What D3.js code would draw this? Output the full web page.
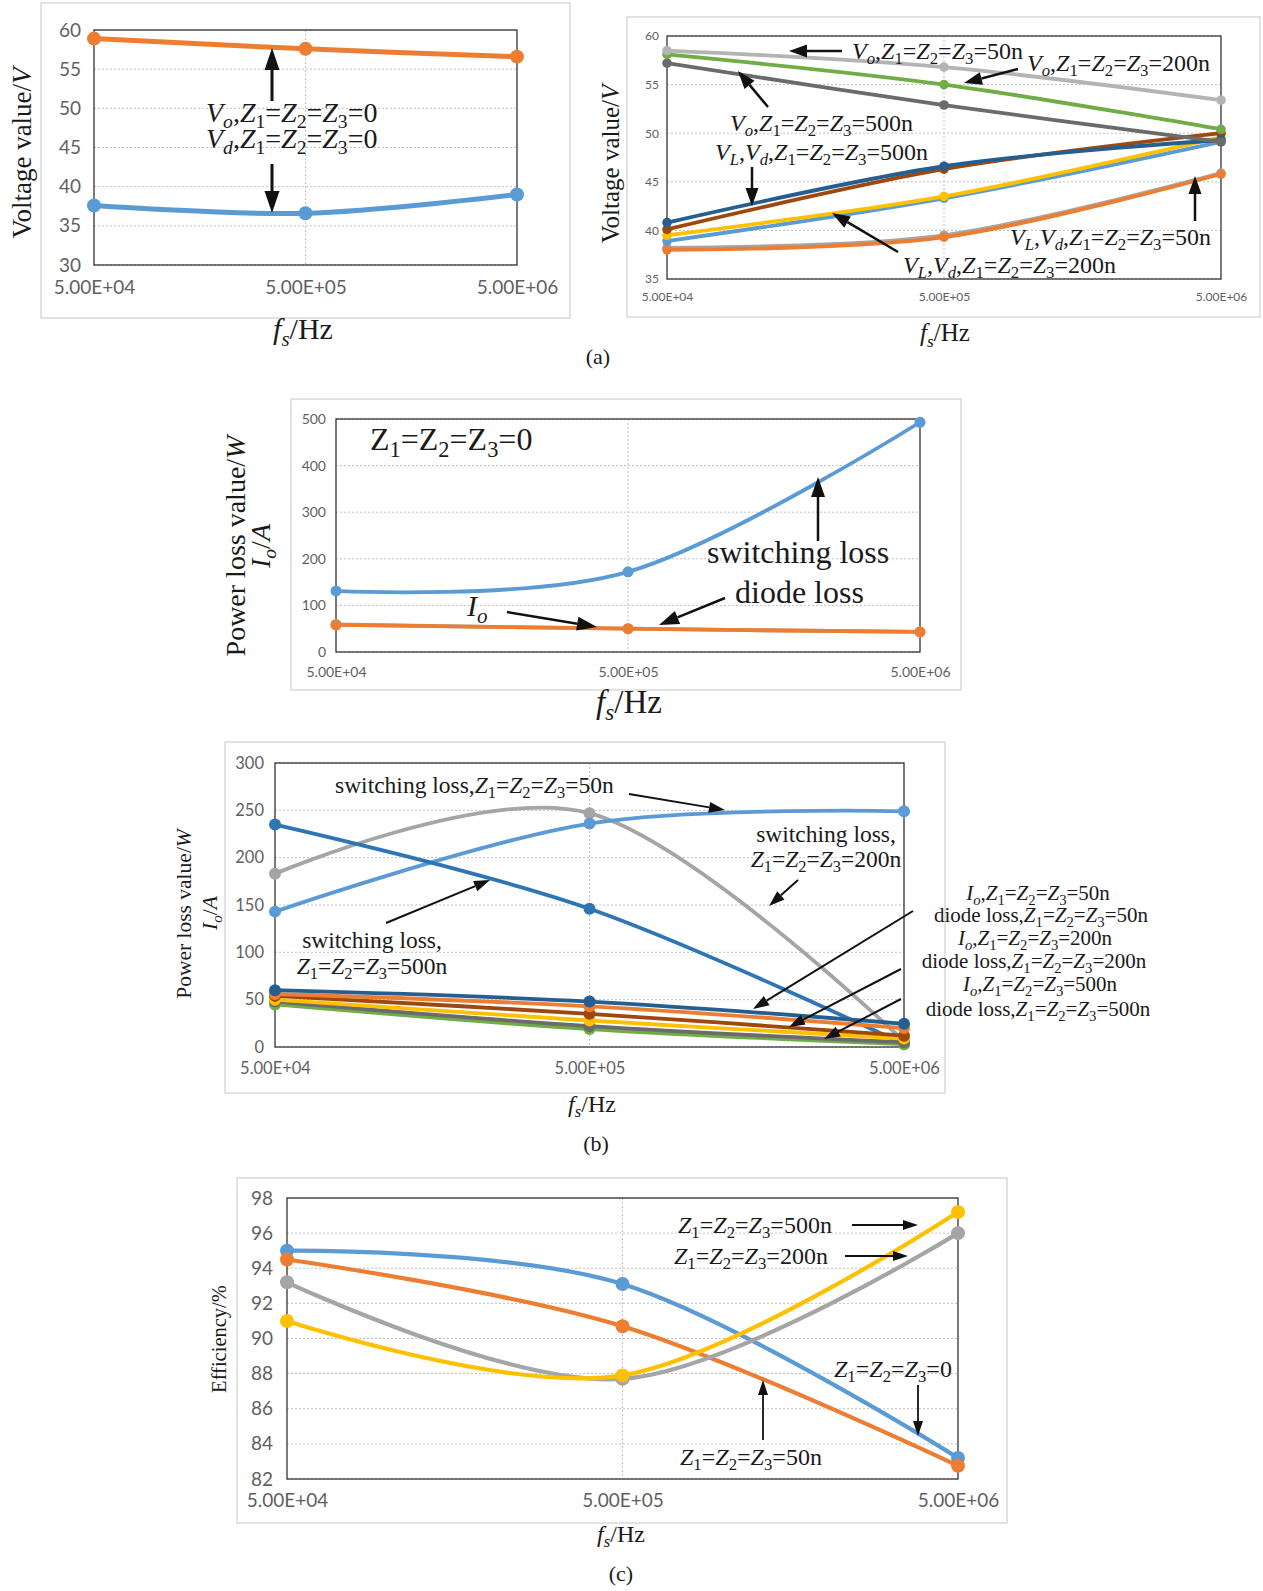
<!DOCTYPE html>
<html>
<head>
<meta charset="utf-8">
<script src="https://cdn.jsdelivr.net/npm/d3@7"></script>
<style>
body{margin:0;background:#fff}
svg{display:block}
</style>
</head>
<body>
<script>
// switching frequency (Hz), shared by all panels
var freqs = [5e4, 5e5, 5e6];
var xTickLabels = ["5.00E+04", "5.00E+05", "5.00E+06"];

// (a) left, Z1=Z2=Z3=0
var a1Ticks = [30, 35, 40, 45, 50, 55, 60];
var a1Vo = [58.9, 57.6, 56.6];
var a1Vd = [37.6, 36.6, 39.0];

// (a) right
var a2Ticks = [35, 40, 45, 50, 55, 60];
var a2Vo50 = [58.5, 56.8, 53.4];
var a2Vo200 = [58.1, 55.0, 50.4];
var a2Vo500 = [57.2, 52.9, 49.1];
var a2VL500 = [40.8, 46.6, 49.3];
var a2Vd500 = [40.1, 46.3, 50.0];
var a2VL200 = [39.5, 43.5, 49.6];
var a2Vd200 = [38.9, 43.3, 49.1];
var a2VL50 = [38.2, 39.5, 45.9];
var a2Vd50 = [38.0, 39.3, 45.8];

// (b) top, Z1=Z2=Z3=0
var b1Ticks = [0, 100, 200, 300, 400, 500];
var b1Switch = [131, 172, 493];
var b1Io = [59, 50, 43];
var b1Diode = [58, 50, 43];

// (b) bottom
var b2Ticks = [0, 50, 100, 150, 200, 250, 300];
var b2Sw50 = [143, 236, 249];
var b2Sw200 = [183, 247, 6];
var b2Sw500 = [235, 146, 3];
var b2Io50 = [60, 48, 24.5];
var b2Dl50 = [56, 43, 20];
var b2Io200 = [54, 35, 12];
var b2Dl200 = [50, 28, 9];
var b2Io500 = [48, 22, 5];
var b2Dl500 = [45, 19, 3];

// (c) efficiency
var cTicks = [82, 84, 86, 88, 90, 92, 94, 96, 98];
var cZ0 = [95.0, 93.1, 83.2];
var cZ50 = [94.5, 90.7, 82.75];
var cZ200 = [93.2, 87.7, 96.0];
var cZ500 = [91.0, 87.9, 97.2];

var svg = d3.select("body").append("svg").attr("width", 1263).attr("height", 1591);
var serif = "'Liberation Serif','Times New Roman',serif";
var sans = "Lato,'Open Sans',sans-serif";

function panel(p) {
  var g = svg.append("g");
  g.append("rect").attr("x", p.frame[0]).attr("y", p.frame[1])
    .attr("width", p.frame[2]).attr("height", p.frame[3])
    .attr("fill", "#fff").attr("stroke", "#d9d9d9").attr("stroke-width", 1.5);
  var x = d3.scaleLog().domain([freqs[0], freqs[2]]).range([p.l, p.r]);
  var y = d3.scaleLinear().domain(d3.extent(p.ticks)).range([p.b, p.t]);

  g.selectAll("line.hg").data(p.ticks).join("line").attr("class", "hg")
    .attr("x1", p.l).attr("x2", p.r)
    .attr("y1", function (d) { return y(d); }).attr("y2", function (d) { return y(d); })
    .attr("stroke", "#c2c2c2").attr("stroke-dasharray", "2,2");
  g.append("line").attr("x1", x(freqs[1])).attr("x2", x(freqs[1]))
    .attr("y1", p.t).attr("y2", p.b)
    .attr("stroke", "#c2c2c2").attr("stroke-dasharray", "2,2");

  var ya = g.append("g").attr("transform", "translate(" + p.l + ",0)")
    .call(d3.axisLeft(y).tickValues(p.ticks).tickSize(0).tickPadding(p.yPad));
  var xa = g.append("g").attr("transform", "translate(0," + p.b + ")")
    .call(d3.axisBottom(x).tickValues(freqs)
      .tickFormat(function (d, i) { return xTickLabels[i]; })
      .tickSize(0).tickPadding(p.xPad));
  [ya, xa].forEach(function (a) {
    a.select(".domain").remove();
    a.selectAll("text").attr("font-family", sans).attr("font-size", p.fs).attr("fill", "#5f5f5f");
  });

  g.append("rect").attr("x", p.l).attr("y", p.t).attr("width", p.r - p.l).attr("height", p.b - p.t)
    .attr("fill", "none").attr("stroke", "#333").attr("stroke-width", 1.3);

  var line = d3.line()
    .x(function (d, i) { return x(freqs[i]); })
    .y(function (d) { return y(d); })
    .curve(d3.curveCardinal.tension(0));
  p.series.forEach(function (s) {
    g.append("path").attr("d", line(s.v)).attr("fill", "none")
      .attr("stroke", s.c).attr("stroke-width", p.lw).attr("stroke-linecap", "round");
    g.selectAll(null).data(s.v).join("circle")
      .attr("cx", function (d, i) { return x(freqs[i]); })
      .attr("cy", function (d) { return y(d); })
      .attr("r", p.mr).attr("fill", s.c);
  });
  return g;
}

// text with *italic* and _s subscripts
function rich(x, y, str, size, anchor, rot) {
  var t = svg.append("text").attr("x", x).attr("y", y)
    .attr("font-family", serif).attr("font-size", size)
    .attr("text-anchor", anchor || "start").attr("fill", "#1a1a1a");
  if (rot) t.attr("transform", "rotate(-90," + x + "," + y + ")");
  var runs = [], it = false, sub = false;
  for (var k = 0; k < str.length; k++) {
    var ch = str[k];
    if (ch === "*") { it = !it; continue; }
    if (ch === "_") { sub = true; continue; }
    var last = runs[runs.length - 1];
    if (last && last.it === it && last.sub === sub) last.s += ch;
    else runs.push({ s: ch, it: it, sub: sub });
    sub = false;
  }
  var down = false, off = size * 0.22;
  runs.forEach(function (r) {
    var ts = t.append("tspan").text(r.s).attr("font-style", r.it ? "italic" : "normal");
    if (r.sub) {
      ts.attr("font-size", size * 0.7);
      if (!down) { ts.attr("dy", off); down = true; }
    } else if (down) { ts.attr("dy", -off); down = false; }
  });
}

function arrow(x1, y1, x2, y2, lw, hl, hw) {
  var a = Math.atan2(y2 - y1, x2 - x1);
  var bx = x2 - hl * Math.cos(a), by = y2 - hl * Math.sin(a);
  var px = -Math.sin(a) * hw / 2, py = Math.cos(a) * hw / 2;
  svg.append("line").attr("x1", x1).attr("y1", y1).attr("x2", bx).attr("y2", by)
    .attr("stroke", "#111").attr("stroke-width", lw);
  svg.append("path")
    .attr("d", "M" + x2 + "," + y2 + "L" + (bx + px) + "," + (by + py) + "L" + (bx - px) + "," + (by - py) + "Z")
    .attr("fill", "#111");
}

// ---- (a) left
panel({
  frame: [41, 3, 529, 315], l: 94, r: 517, t: 30, b: 265,
  ticks: a1Ticks, fs: 19, yPad: 13, xPad: 16, lw: 5, mr: 7,
  series: [{ v: a1Vd, c: "#5B9BD5" }, { v: a1Vo, c: "#ED7D31" }]
});
rich(206, 122, "*V_o*,*Z*_1=*Z*_2=*Z*_3=0", 28);
rich(206, 148, "*V_d*,*Z*_1=*Z*_2=*Z*_3=0", 28);
arrow(272, 101, 272, 48, 3, 22, 15);
arrow(272, 164, 272, 213, 3, 22, 15);
rich(31, 153, "Voltage value/*V*", 27, "middle", true);
rich(303, 339, "*f_s*/Hz", 30, "middle");

// ---- (a) right
panel({
  frame: [627, 17, 633, 300], l: 667, r: 1221, t: 36, b: 279,
  ticks: a2Ticks, fs: 12, yPad: 8, xPad: 13, lw: 3.8, mr: 4.8,
  series: [
    { v: a2VL50, c: "#A5A5A5" }, { v: a2Vd50, c: "#ED7D31" },
    { v: a2Vd200, c: "#5B9BD5" }, { v: a2VL200, c: "#FFC000" },
    { v: a2Vd500, c: "#9E480E" }, { v: a2VL500, c: "#255E91" },
    { v: a2Vo500, c: "#6B6B6B" }, { v: a2Vo200, c: "#70AD47" },
    { v: a2Vo50, c: "#B4B4B4" }
  ]
});
rich(852, 59, "*V_o*,*Z*_1=*Z*_2=*Z*_3=50n", 24);
arrow(842, 51, 789, 51, 2.5, 18, 13);
rich(1210, 71, "*V_o*,*Z*_1=*Z*_2=*Z*_3=200n", 24, "end");
arrow(1018, 69, 964, 83, 2.5, 18, 13);
rich(730, 131, "*V_o*,*Z*_1=*Z*_2=*Z*_3=500n", 24);
arrow(768, 107, 738, 71, 2.5, 18, 13);
rich(715, 160, "*V_L*,*V_d*,*Z*_1=*Z*_2=*Z*_3=500n", 24);
arrow(752, 167, 752, 206, 2.5, 18, 13);
rich(903, 273, "*V_L*,*V_d*,*Z*_1=*Z*_2=*Z*_3=200n", 24);
arrow(898, 252, 832, 213, 2.5, 18, 13);
rich(1211, 245, "*V_L*,*V_d*,*Z*_1=*Z*_2=*Z*_3=50n", 24, "end");
arrow(1195, 221, 1195, 176, 2.5, 18, 13);
rich(619, 164, "Voltage value/*V*", 25, "middle", true);
rich(945, 341, "*f_s*/Hz", 25, "middle");
rich(598, 364, "(a)", 22, "middle");

// ---- (b) top
panel({
  frame: [291, 399, 670, 291], l: 336, r: 920, t: 419, b: 652,
  ticks: b1Ticks, fs: 14, yPad: 10, xPad: 15, lw: 3.8, mr: 5.5,
  series: [{ v: b1Io, c: "#A5A5A5" }, { v: b1Diode, c: "#ED7D31" }, { v: b1Switch, c: "#5B9BD5" }]
});
rich(370, 450, "Z_1=Z_2=Z_3=0", 32);
rich(707, 563, "switching loss", 32);
arrow(818, 541, 818, 477, 2.5, 20, 14);
rich(735, 603, "diode loss", 32);
arrow(725, 598, 659, 625, 2.5, 20, 14);
rich(467, 616, "*I_o*", 30);
arrow(507, 612, 597, 627, 2.5, 20, 14);
rich(245, 546, "Power loss value/*W*", 28, "middle", true);
rich(270, 546, "*I_o*/*A*", 28, "middle", true);
rich(629, 713, "*f_s*/Hz", 33, "middle");

// ---- (b) bottom
panel({
  frame: [225, 742, 720, 351], l: 275, r: 904, t: 763, b: 1047,
  ticks: b2Ticks, fs: 16.5, yPad: 11, xPad: 15, lw: 3.8, mr: 6,
  series: [
    { v: b2Sw200, c: "#A5A5A5" }, { v: b2Sw50, c: "#5B9BD5" }, { v: b2Sw500, c: "#2E75B6" },
    { v: b2Dl500, c: "#70AD47" }, { v: b2Io500, c: "#6B6B6B" },
    { v: b2Dl200, c: "#FFC000" }, { v: b2Io200, c: "#9E480E" },
    { v: b2Dl50, c: "#ED7D31" }, { v: b2Io50, c: "#255E91" }
  ]
});
rich(335, 793, "switching loss,*Z*_1=*Z*_2=*Z*_3=50n", 23.5);
arrow(629, 794, 725, 810, 2, 16, 11);
rich(826, 842, "switching loss,", 23.5, "middle");
rich(826, 867, "*Z*_1=*Z*_2=*Z*_3=200n", 23.5, "middle");
arrow(798, 880, 769, 906, 2, 16, 11);
rich(372, 948, "switching loss,", 23.5, "middle");
rich(372, 974, "*Z*_1=*Z*_2=*Z*_3=500n", 23.5, "middle");
arrow(386, 923, 490, 880, 2, 16, 11);
rich(1038, 900, "*I_o*,*Z*_1=*Z*_2=*Z*_3=50n", 21, "middle");
rich(1041, 922, "diode loss,*Z*_1=*Z*_2=*Z*_3=50n", 21, "middle");
rich(1035, 945, "*I_o*,*Z*_1=*Z*_2=*Z*_3=200n", 21, "middle");
rich(1034, 968, "diode loss,*Z*_1=*Z*_2=*Z*_3=200n", 21, "middle");
rich(1040, 991, "*I_o*,*Z*_1=*Z*_2=*Z*_3=500n", 21, "middle");
rich(1038, 1016, "diode loss,*Z*_1=*Z*_2=*Z*_3=500n", 21, "middle");
arrow(913, 911, 753, 1009, 2, 16, 11);
arrow(901, 969, 789, 1027, 2, 16, 11);
arrow(901, 999, 824, 1039, 2, 16, 11);
rich(191, 914, "Power loss value/*W*", 21.5, "middle", true);
rich(217, 913, "*I_o*/*A*", 21.5, "middle", true);
rich(592, 1112, "*f_s*/Hz", 24, "middle");
rich(596, 1151, "(b)", 22, "middle");

// ---- (c)
panel({
  frame: [237, 1178, 770, 345], l: 287, r: 958, t: 1198, b: 1479,
  ticks: cTicks, fs: 19, yPad: 14, xPad: 15, lw: 4.2, mr: 7,
  series: [
    { v: cZ0, c: "#5B9BD5" }, { v: cZ50, c: "#ED7D31" },
    { v: cZ200, c: "#A5A5A5" }, { v: cZ500, c: "#FFC000" }
  ]
});
rich(678, 1233, "*Z*_1=*Z*_2=*Z*_3=500n", 24);
arrow(852, 1225, 918, 1225, 1.8, 15, 10);
rich(674, 1264, "*Z*_1=*Z*_2=*Z*_3=200n", 24);
arrow(845, 1256, 908, 1256, 1.8, 15, 10);
rich(834, 1377, "*Z*_1=*Z*_2=*Z*_3=0", 24);
arrow(918, 1385, 918, 1436, 1.8, 15, 10);
rich(680, 1465, "*Z*_1=*Z*_2=*Z*_3=50n", 24);
arrow(763, 1440, 763, 1380, 1.8, 15, 10);
rich(226, 1339, "Efficiency/%", 20.5, "middle", true);
rich(621, 1542, "*f_s*/Hz", 24, "middle");
rich(621, 1581, "(c)", 22, "middle");
</script>
</body>
</html>
